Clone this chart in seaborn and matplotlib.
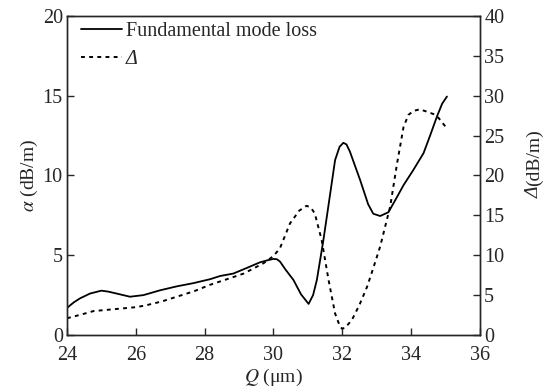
import matplotlib
matplotlib.use("Agg")
import matplotlib.pyplot as plt
import numpy as np
import pandas as pd
import seaborn as sns

# fundamental mode loss (left axis, dB/m)
q_loss = [24.0, 24.2, 24.38, 24.67, 25.0, 25.2, 25.44, 25.83, 26.22, 26.7, 27.19, 27.67,
          28.16, 28.45, 28.83, 29.22, 29.6, 29.85, 30.0, 30.1, 30.19, 30.35, 30.58, 30.8,
          31.02, 31.15, 31.26, 31.45, 31.65, 31.79, 31.92, 32.03, 32.12, 32.22, 32.52,
          32.75, 32.9, 33.1, 33.34, 33.55, 33.78, 34.05, 34.36, 34.55, 34.75, 34.9, 35.04]
loss = [1.7, 2.05, 2.3, 2.6, 2.78, 2.72, 2.6, 2.4, 2.5, 2.8, 3.05, 3.25,
        3.5, 3.7, 3.85, 4.2, 4.55, 4.7, 4.77, 4.75, 4.6, 4.1, 3.45, 2.55,
        1.95, 2.5, 3.45, 5.95, 8.9, 10.97, 11.8, 12.05, 11.95, 11.5, 9.7,
        8.2, 7.6, 7.46, 7.7, 8.5, 9.4, 10.3, 11.4, 12.5, 13.7, 14.5, 14.95]

# Delta (right axis, dB/m)
q_delta = [24.0, 24.4, 24.77, 25.4, 26.03, 26.32, 26.75, 27.19, 27.7, 28.16, 28.65, 29.13,
           29.71, 30.0, 30.19, 30.48, 30.75, 30.96, 31.08, 31.2, 31.4, 31.6, 31.79, 31.92,
           31.99, 32.08, 32.28, 32.5, 32.72, 32.9, 33.1, 33.39, 33.59, 33.78, 33.92, 34.07,
           34.25, 34.46, 34.65, 34.8, 35.04]
delta = [2.1, 2.55, 3.0, 3.25, 3.5, 3.75, 4.2, 4.8, 5.5, 6.3, 7.0, 7.7,
         9.0, 9.9, 10.9, 14.0, 15.6, 16.2, 16.0, 15.25, 11.9, 6.9, 2.7, 1.2,
         0.8, 0.9, 1.9, 3.8, 6.05, 8.4, 11.1, 16.1, 21.5, 26.1, 27.6, 28.1,
         28.3, 28.0, 27.7, 27.2, 25.9]

df_loss = pd.DataFrame({"Q": q_loss, "alpha": loss})
df_delta = pd.DataFrame({"Q": q_delta, "delta": delta})

sns.set_style("ticks")
plt.rcParams["font.family"] = ["Liberation Serif", "DejaVu Serif"]
plt.rcParams["mathtext.fontset"] = "stix"
plt.rcParams["xtick.direction"] = "in"
plt.rcParams["ytick.direction"] = "in"

fig = plt.figure(figsize=(5.46, 3.92), dpi=100)
ax = fig.add_axes([0.1227, 0.1454, 0.7564, 0.8138])
ax2 = ax.twinx()

sns.lineplot(data=df_loss, x="Q", y="alpha", ax=ax, color="black", lw=1.3,
             label="Fundamental mode loss", legend=False)
sns.lineplot(data=df_delta, x="Q", y="delta", ax=ax2, color="black", lw=1.4,
             linestyle=(0, (2.0, 2.2)), label="Δ", legend=False)

ax.set_xlim(24, 36)
ax.set_ylim(0, 20)
ax2.set_ylim(0, 40)
ax.set_xticks(np.arange(24, 37, 2))
ax.set_yticks(np.arange(0, 21, 5))
ax2.set_yticks(np.arange(0, 41, 5))

ax.set_xlabel(r"$Q$ (μm)", fontsize=14, labelpad=1)
ax.set_ylabel(r"$\alpha$ (dB/m)", fontsize=14, labelpad=2)
ax2.set_ylabel("")

# right label: italic Delta followed by upright unit
fig.text(534 / 546, 206 / 392, "Δ", rotation=90, fontsize=14, fontstyle="italic",
         ha="center", va="top")
fig.text(534 / 546, 206 / 392, "(dB/m)", rotation=90, fontsize=14,
         ha="center", va="bottom")

for a in (ax, ax2):
    a.tick_params(axis="y", labelsize=14.5, length=5, width=1, pad=3)
    for s in a.spines.values():
        s.set_linewidth(1.0)
ax.tick_params(axis="x", labelsize=14.5, length=5, width=1, pad=8)

h1, l1 = ax.get_legend_handles_labels()
h2, l2 = ax2.get_legend_handles_labels()
leg = ax.legend(h1 + h2, l1 + l2, loc="upper left", bbox_to_anchor=(0.02, 1.0),
                frameon=False, fontsize=14.5, handlelength=2.0, handletextpad=0.2,
                borderaxespad=0.0, borderpad=0.3, labelspacing=0.45)
leg.get_texts()[1].set_fontstyle("italic")

fig.savefig("out.png", dpi=100)
